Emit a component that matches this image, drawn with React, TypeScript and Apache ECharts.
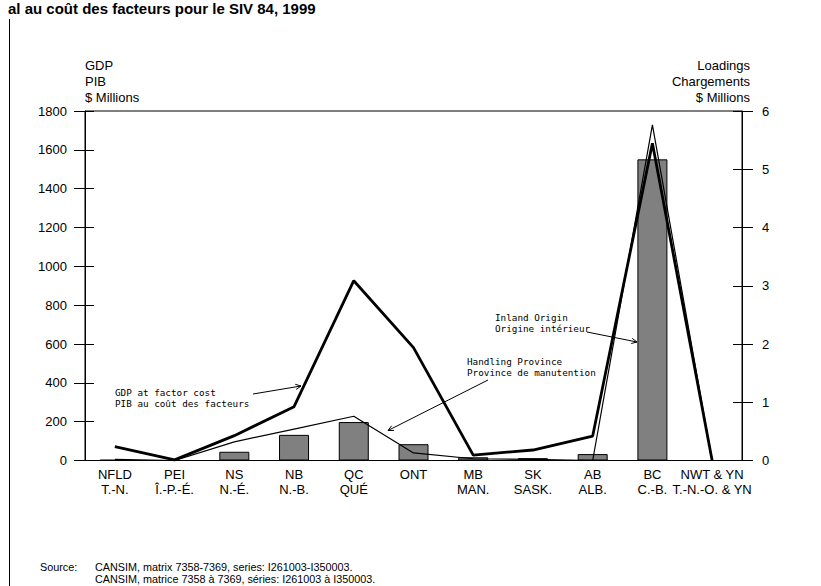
import React, { useEffect, useRef } from "react";
import * as echarts from "echarts";

const categories = [
  "NFLD\nT.-N.",
  "PEI\nÎ.-P.-É.",
  "NS\nN.-É.",
  "NB\nN.-B.",
  "QC\nQUÉ",
  "ONT",
  "MB\nMAN.",
  "SK\nSASK.",
  "AB\nALB.",
  "BC\nC.-B.",
  "NWT & YN\nT.-N.-O. & YN",
];

// GDP at factor cost ($ millions, left axis)
const gdpValues = [71, 3, 128, 277, 926, 581, 28, 54, 126, 1634, 0];
// Handling Province loadings ($ millions, right axis)
const handlingValues = [0.02, 0, 0.32, 0.54, 0.76, 0.13, 0.03, 0.02, 0, 5.76, 0];
// Inland Origin loadings ($ millions, right axis)
const inlandValues = [0.01, 0, 0.15, 0.44, 0.66, 0.28, 0.055, 0.04, 0.11, 5.17, 0];

const leftTicks = { min: 0, max: 1800, interval: 200 };
const rightTicks = { min: 0, max: 6, interval: 1 };

const SANS = '"Liberation Sans", Arial, sans-serif';
const MONO = '"DejaVu Sans Mono", monospace';

function arrow(x1: number, y1: number, x2: number, y2: number) {
  const ang = Math.atan2(y2 - y1, x2 - x1);
  const L = 6;
  const a = 0.45;
  const p1 = [x2 - L * Math.cos(ang - a), y2 - L * Math.sin(ang - a)];
  const p2 = [x2 - L * Math.cos(ang + a), y2 - L * Math.sin(ang + a)];
  return [
    { type: "line", shape: { x1, y1, x2, y2 }, style: { stroke: "#000", lineWidth: 1 } },
    { type: "polyline", shape: { points: [p1, [x2, y2], p2] }, style: { stroke: "#000", fill: null, lineWidth: 1 } },
  ];
}

function note(x: number, y: number, text: string) {
  return {
    type: "text",
    x,
    y,
    style: { text, fill: "#000", font: `9.3px ${MONO}`, lineHeight: 11, verticalAlign: "top", align: "left" },
  };
}

export default function App() {
  const ref = useRef<HTMLDivElement>(null);
  useEffect(() => {
    if (!ref.current) return;
    const chart = echarts.init(ref.current, null, { renderer: "svg" });
    const axisLabelStyle = { color: "#000", fontFamily: SANS, fontSize: 13 };
    chart.setOption({
      animation: false,
      backgroundColor: "#fff",
      grid: { left: 85, right: 79, top: 111, bottom: 125.5, show: true, borderColor: "#000", borderWidth: 1, backgroundColor: "transparent" },
      xAxis: {
        type: "category",
        data: categories,
        axisLine: { lineStyle: { color: "#000", width: 1 } },
        axisTick: { show: false },
        axisLabel: { ...axisLabelStyle, lineHeight: 15, margin: 6, interval: 0 },
        splitLine: { show: false },
      },
      yAxis: [
        {
          type: "value",
          position: "left",
          ...leftTicks,
          axisLine: { show: true, lineStyle: { color: "#000" } },
          axisTick: { show: true, length: 11, lineStyle: { color: "#000" } },
          axisLabel: { ...axisLabelStyle, margin: 18, formatter: (v: number) => String(v) },
          splitLine: { show: false },
        },
        {
          type: "value",
          position: "right",
          ...rightTicks,
          axisLine: { show: true, lineStyle: { color: "#000" } },
          axisTick: { show: true, length: 11, lineStyle: { color: "#000" } },
          axisLabel: { ...axisLabelStyle, margin: 20, formatter: (v: number) => String(v) },
          splitLine: { show: false },
        },
        {
          type: "value",
          position: "left",
          ...leftTicks,
          axisLine: { show: false },
          axisTick: { show: true, inside: true, length: 9, lineStyle: { color: "#000" } },
          axisLabel: { show: false },
          splitLine: { show: false },
        },
        {
          type: "value",
          position: "right",
          ...rightTicks,
          axisLine: { show: false },
          axisTick: { show: true, inside: true, length: 9, lineStyle: { color: "#000" } },
          axisLabel: { show: false },
          splitLine: { show: false },
        },
      ],
      series: [
        {
          name: "Inland Origin",
          type: "bar",
          yAxisIndex: 1,
          data: inlandValues,
          barWidth: 30,
          itemStyle: { color: "#808080", borderColor: "#000", borderWidth: 1 },
        },
        {
          name: "Handling Province",
          type: "line",
          yAxisIndex: 1,
          data: handlingValues,
          symbol: "none",
          lineStyle: { color: "#000", width: 1.2 },
        },
        {
          name: "GDP at factor cost",
          type: "line",
          yAxisIndex: 0,
          data: gdpValues,
          symbol: "none",
          lineStyle: { color: "#000", width: 2.8 },
        },
      ],
      graphic: [
        {
          type: "text",
          x: 8,
          y: 1,
          style: { text: "al au coût des facteurs pour le SIV 84, 1999", fill: "#000", font: `bold 15px ${SANS}`, verticalAlign: "top", align: "left" },
        },
        { type: "line", shape: { x1: 9.5, y1: 19, x2: 9.5, y2: 586 }, style: { stroke: "#000", lineWidth: 1 } },
        {
          type: "text",
          x: 85,
          y: 57,
          style: { text: "GDP\nPIB\n$ Millions", fill: "#000", font: `13px ${SANS}`, lineHeight: 16, verticalAlign: "top", align: "left" },
        },
        {
          type: "text",
          x: 750,
          y: 57,
          style: { text: "Loadings\nChargements\n$ Millions", fill: "#000", font: `13px ${SANS}`, lineHeight: 16, verticalAlign: "top", align: "right" },
        },
        note(115, 387, "GDP at factor cost\nPIB au coût des facteurs"),
        ...arrow(253, 394, 301, 386),
        note(467, 355.5, "Handling Province\nProvince de manutention"),
        ...arrow(488, 380, 388, 430.5),
        note(495, 311.5, "Inland Origin\nOrigine intérieur"),
        ...arrow(587, 332, 637, 342),
        {
          type: "text",
          x: 40,
          y: 567,
          style: { text: "Source:", fill: "#000", font: `10.8px ${SANS}`, verticalAlign: "middle", align: "left" },
        },
        {
          type: "text",
          x: 95,
          y: 561,
          style: {
            text: "CANSIM, matrix 7358-7369, series: I261003-I350003.\nCANSIM, matrice 7358 à 7369, séries: I261003 à I350003.",
            fill: "#000",
            font: `10.8px ${SANS}`,
            lineHeight: 12,
            verticalAlign: "top",
            align: "left",
          },
        },
      ],
    });
    return () => chart.dispose();
  }, []);
  return <div ref={ref} style={{ position: "fixed", left: 0, top: 0, width: 821, height: 586 }} />;
}
